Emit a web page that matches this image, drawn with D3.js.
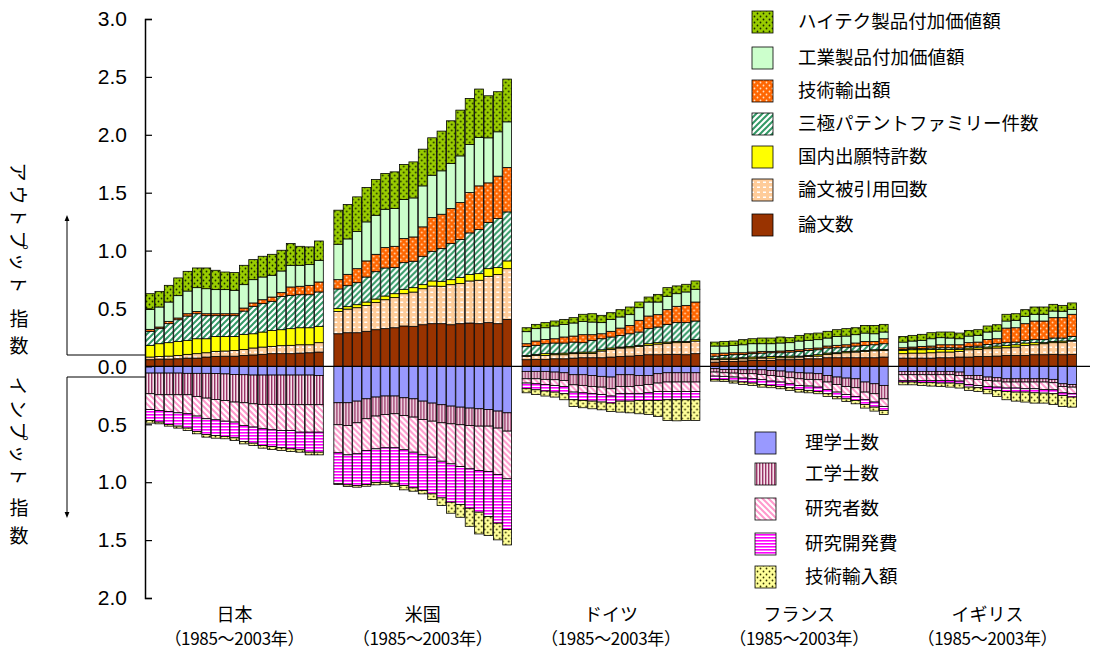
<!DOCTYPE html>
<html>
<head>
<meta charset="utf-8">
<script src="https://cdn.jsdelivr.net/npm/d3@7"></script>
<style>
  body { margin: 0; background: #fff; }
  svg { display: block; font-family: "Noto Sans CJK JP", "Noto Sans", sans-serif; }
</style>
</head>
<body>
<div id="chart"></div>
<script>
const width = 1096;
const height = 652;

const countries = ["日本", "米国", "ドイツ", "フランス", "イギリス"];
const years = [1985, 1986, 1987, 1988, 1989, 1990, 1991, 1992, 1993, 1994,
  1995, 1996, 1997, 1998, 1999, 2000, 2001, 2002, 2003];
const yTicks = [-2, -1.5, -1, -0.5, 0, 0.5, 1, 1.5, 2, 2.5, 3];

// output side, one row per country (JP, US, DE, FR, UK), 1985..2003
const papers = [
  [0.058, 0.063, 0.063, 0.066, 0.072, 0.072, 0.081, 0.086, 0.088, 0.088, 0.095, 0.099, 0.104, 0.110, 0.110, 0.110, 0.115, 0.118, 0.124],
  [0.282, 0.291, 0.291, 0.303, 0.317, 0.326, 0.334, 0.349, 0.346, 0.360, 0.369, 0.369, 0.360, 0.369, 0.375, 0.369, 0.378, 0.369, 0.406],
  [0.058, 0.061, 0.061, 0.066, 0.066, 0.072, 0.075, 0.075, 0.075, 0.081, 0.086, 0.089, 0.095, 0.101, 0.101, 0.104, 0.104, 0.101, 0.110],
  [0.037, 0.043, 0.043, 0.046, 0.052, 0.052, 0.052, 0.058, 0.058, 0.061, 0.066, 0.066, 0.075, 0.075, 0.075, 0.075, 0.075, 0.075, 0.081],
  [0.072, 0.072, 0.072, 0.072, 0.075, 0.075, 0.081, 0.081, 0.086, 0.086, 0.089, 0.095, 0.095, 0.095, 0.101, 0.101, 0.104, 0.101, 0.104]
];
const citations = [
  [0.023, 0.023, 0.026, 0.029, 0.032, 0.038, 0.037, 0.044, 0.045, 0.050, 0.052, 0.060, 0.063, 0.063, 0.069, 0.072, 0.072, 0.069, 0.081],
  [0.193, 0.204, 0.216, 0.224, 0.236, 0.250, 0.260, 0.279, 0.296, 0.311, 0.325, 0.323, 0.346, 0.346, 0.363, 0.375, 0.400, 0.424, 0.438],
  [0.028, 0.034, 0.034, 0.035, 0.035, 0.038, 0.037, 0.037, 0.058, 0.066, 0.073, 0.072, 0.078, 0.081, 0.092, 0.095, 0.101, 0.106, 0.109],
  [0.021, 0.018, 0.018, 0.020, 0.014, 0.020, 0.020, 0.017, 0.017, 0.020, 0.020, 0.023, 0.029, 0.035, 0.043, 0.049, 0.055, 0.060, 0.057],
  [0.038, 0.043, 0.043, 0.046, 0.049, 0.049, 0.049, 0.063, 0.061, 0.067, 0.070, 0.066, 0.072, 0.087, 0.086, 0.095, 0.101, 0.104, 0.115]
];
const domesticPatents = [
  [0.101, 0.110, 0.116, 0.121, 0.121, 0.129, 0.121, 0.129, 0.126, 0.121, 0.130, 0.123, 0.130, 0.138, 0.138, 0.144, 0.147, 0.147, 0.141],
  [0.024, 0.021, 0.026, 0.029, 0.029, 0.032, 0.034, 0.038, 0.038, 0.035, 0.044, 0.043, 0.043, 0.052, 0.055, 0.057, 0.066, 0.060, 0.067],
  [0.009, 0.009, 0.015, 0.009, 0.014, 0.008, 0.012, 0.012, 0.011, 0.012, 0.008, 0.012, 0.009, 0.014, 0.012, 0.011, 0.011, 0.009, 0.012],
  [0.008, 0.011, 0.011, 0.009, 0.015, 0.009, 0.014, 0.011, 0.014, 0.008, 0.009, 0.012, 0.011, 0.008, 0.012, 0.009, 0.008, 0.009, 0.009],
  [0.028, 0.029, 0.029, 0.029, 0.023, 0.023, 0.017, 0.015, 0.014, 0.014, 0.017, 0.021, 0.020, 0.020, 0.018, 0.009, 0.011, 0.014, 0.006]
];
const triadicPatents = [
  [0.121, 0.130, 0.164, 0.187, 0.210, 0.216, 0.199, 0.179, 0.179, 0.179, 0.201, 0.237, 0.245, 0.251, 0.288, 0.288, 0.285, 0.285, 0.297],
  [0.170, 0.181, 0.190, 0.216, 0.236, 0.242, 0.225, 0.230, 0.228, 0.245, 0.256, 0.282, 0.312, 0.328, 0.360, 0.381, 0.398, 0.424, 0.423],
  [0.078, 0.078, 0.086, 0.092, 0.087, 0.092, 0.081, 0.101, 0.095, 0.095, 0.101, 0.109, 0.115, 0.130, 0.135, 0.153, 0.162, 0.162, 0.161],
  [0.023, 0.023, 0.029, 0.029, 0.029, 0.034, 0.032, 0.032, 0.035, 0.041, 0.043, 0.043, 0.044, 0.043, 0.037, 0.043, 0.044, 0.043, 0.049],
  [0.009, 0.009, 0.009, 0.012, 0.014, 0.014, 0.012, 0.014, 0.015, 0.023, 0.020, 0.023, 0.023, 0.023, 0.026, 0.026, 0.029, 0.026, 0.034]
];
const techExports = [
  [0.017, 0.014, 0.020, 0.015, 0.020, 0.020, 0.017, 0.017, 0.017, 0.017, 0.026, 0.029, 0.034, 0.037, 0.032, 0.072, 0.073, 0.081, 0.086],
  [0.080, 0.098, 0.121, 0.139, 0.150, 0.176, 0.184, 0.208, 0.210, 0.254, 0.291, 0.297, 0.302, 0.320, 0.348, 0.377, 0.343, 0.366, 0.384],
  [0.023, 0.037, 0.037, 0.037, 0.052, 0.052, 0.069, 0.049, 0.043, 0.049, 0.063, 0.072, 0.101, 0.109, 0.107, 0.127, 0.141, 0.149, 0.164],
  [0.021, 0.020, 0.017, 0.014, 0.014, 0.015, 0.012, 0.015, 0.014, 0.014, 0.015, 0.015, 0.017, 0.021, 0.020, 0.026, 0.034, 0.029, 0.043],
  [0.014, 0.014, 0.020, 0.017, 0.026, 0.026, 0.028, 0.032, 0.034, 0.043, 0.043, 0.126, 0.124, 0.144, 0.161, 0.161, 0.176, 0.176, 0.191]
];
const industryValueAdded = [
  [0.173, 0.173, 0.167, 0.193, 0.196, 0.205, 0.216, 0.208, 0.208, 0.202, 0.202, 0.201, 0.196, 0.188, 0.187, 0.187, 0.181, 0.179, 0.187],
  [0.306, 0.306, 0.320, 0.337, 0.337, 0.331, 0.326, 0.337, 0.337, 0.354, 0.366, 0.375, 0.389, 0.403, 0.415, 0.418, 0.389, 0.383, 0.394],
  [0.104, 0.107, 0.101, 0.110, 0.109, 0.113, 0.115, 0.109, 0.096, 0.103, 0.096, 0.093, 0.109, 0.121, 0.109, 0.115, 0.109, 0.116, 0.110],
  [0.066, 0.061, 0.064, 0.069, 0.072, 0.066, 0.066, 0.069, 0.067, 0.075, 0.072, 0.072, 0.069, 0.077, 0.075, 0.072, 0.072, 0.066, 0.058],
  [0.049, 0.052, 0.052, 0.063, 0.061, 0.058, 0.052, 0.057, 0.058, 0.064, 0.066, 0.061, 0.064, 0.063, 0.058, 0.058, 0.057, 0.055, 0.043]
];
const hiTechValueAdded = [
  [0.135, 0.135, 0.144, 0.153, 0.170, 0.170, 0.179, 0.167, 0.152, 0.153, 0.167, 0.173, 0.179, 0.181, 0.179, 0.188, 0.164, 0.153, 0.167],
  [0.294, 0.297, 0.300, 0.297, 0.309, 0.309, 0.317, 0.303, 0.311, 0.317, 0.323, 0.343, 0.369, 0.395, 0.398, 0.418, 0.363, 0.346, 0.369],
  [0.034, 0.037, 0.044, 0.043, 0.043, 0.046, 0.061, 0.072, 0.063, 0.058, 0.063, 0.066, 0.049, 0.043, 0.066, 0.075, 0.067, 0.066, 0.072],
  [0.034, 0.040, 0.037, 0.044, 0.043, 0.049, 0.049, 0.052, 0.043, 0.049, 0.057, 0.057, 0.058, 0.058, 0.064, 0.060, 0.066, 0.072, 0.066],
  [0.049, 0.049, 0.052, 0.052, 0.049, 0.052, 0.049, 0.049, 0.049, 0.052, 0.055, 0.058, 0.057, 0.058, 0.063, 0.063, 0.058, 0.051, 0.055]
];

// input side (drawn downward)
const scienceGrads = [
  [0.058, 0.058, 0.058, 0.058, 0.060, 0.060, 0.060, 0.062, 0.065, 0.070, 0.072, 0.075, 0.075, 0.075, 0.075, 0.075, 0.075, 0.075, 0.078],
  [0.314, 0.314, 0.300, 0.280, 0.265, 0.256, 0.256, 0.271, 0.280, 0.300, 0.317, 0.331, 0.343, 0.352, 0.360, 0.366, 0.372, 0.386, 0.401],
  [0.043, 0.043, 0.043, 0.049, 0.055, 0.072, 0.072, 0.078, 0.086, 0.092, 0.072, 0.072, 0.078, 0.078, 0.063, 0.055, 0.055, 0.055, 0.055],
  [0.020, 0.026, 0.026, 0.029, 0.029, 0.029, 0.035, 0.040, 0.049, 0.055, 0.058, 0.063, 0.078, 0.092, 0.101, 0.107, 0.135, 0.150, 0.164],
  [0.043, 0.043, 0.043, 0.043, 0.043, 0.043, 0.049, 0.078, 0.078, 0.092, 0.098, 0.107, 0.107, 0.107, 0.107, 0.107, 0.112, 0.150, 0.156]
];
const engineeringGrads = [
  [0.178, 0.187, 0.187, 0.187, 0.185, 0.199, 0.214, 0.223, 0.229, 0.238, 0.242, 0.248, 0.253, 0.253, 0.253, 0.253, 0.256, 0.256, 0.253],
  [0.190, 0.196, 0.187, 0.172, 0.164, 0.159, 0.153, 0.153, 0.158, 0.158, 0.156, 0.156, 0.153, 0.152, 0.150, 0.150, 0.144, 0.147, 0.158],
  [0.064, 0.064, 0.069, 0.066, 0.066, 0.087, 0.092, 0.095, 0.093, 0.101, 0.101, 0.101, 0.086, 0.078, 0.081, 0.080, 0.080, 0.080, 0.080],
  [0.029, 0.029, 0.032, 0.034, 0.034, 0.040, 0.043, 0.046, 0.049, 0.052, 0.054, 0.052, 0.057, 0.064, 0.072, 0.077, 0.087, 0.086, 0.116],
  [0.029, 0.029, 0.029, 0.029, 0.029, 0.029, 0.029, 0.029, 0.034, 0.029, 0.029, 0.028, 0.028, 0.028, 0.028, 0.028, 0.029, 0.023, 0.023]
];
const researchers = [
  [0.136, 0.135, 0.144, 0.156, 0.164, 0.170, 0.178, 0.176, 0.179, 0.173, 0.196, 0.201, 0.211, 0.220, 0.225, 0.225, 0.237, 0.237, 0.237],
  [0.242, 0.254, 0.268, 0.274, 0.283, 0.288, 0.294, 0.296, 0.303, 0.306, 0.311, 0.332, 0.346, 0.361, 0.375, 0.383, 0.392, 0.401, 0.412],
  [0.037, 0.043, 0.044, 0.049, 0.052, 0.063, 0.064, 0.063, 0.063, 0.063, 0.063, 0.063, 0.072, 0.072, 0.072, 0.081, 0.081, 0.081, 0.081],
  [0.035, 0.031, 0.034, 0.038, 0.044, 0.046, 0.049, 0.049, 0.052, 0.057, 0.058, 0.064, 0.064, 0.066, 0.069, 0.075, 0.066, 0.072, 0.066],
  [0.049, 0.049, 0.049, 0.049, 0.049, 0.049, 0.049, 0.049, 0.052, 0.052, 0.052, 0.052, 0.052, 0.058, 0.058, 0.064, 0.061, 0.055, 0.057]
];
const rdSpending = [
  [0.095, 0.101, 0.112, 0.115, 0.124, 0.133, 0.136, 0.136, 0.132, 0.136, 0.138, 0.139, 0.144, 0.144, 0.150, 0.159, 0.152, 0.173, 0.173],
  [0.268, 0.259, 0.274, 0.294, 0.291, 0.297, 0.306, 0.309, 0.308, 0.308, 0.317, 0.317, 0.331, 0.328, 0.340, 0.360, 0.389, 0.420, 0.438],
  [0.049, 0.052, 0.057, 0.058, 0.063, 0.066, 0.066, 0.064, 0.066, 0.061, 0.064, 0.064, 0.058, 0.066, 0.078, 0.072, 0.072, 0.072, 0.072],
  [0.028, 0.029, 0.035, 0.034, 0.037, 0.041, 0.037, 0.038, 0.034, 0.035, 0.037, 0.037, 0.037, 0.037, 0.038, 0.035, 0.041, 0.044, 0.034],
  [0.014, 0.014, 0.020, 0.020, 0.023, 0.023, 0.023, 0.023, 0.020, 0.026, 0.028, 0.029, 0.035, 0.029, 0.035, 0.032, 0.034, 0.023, 0.029]
];
const techImports = [
  [0.023, 0.015, 0.015, 0.017, 0.020, 0.020, 0.023, 0.023, 0.020, 0.023, 0.021, 0.020, 0.023, 0.026, 0.023, 0.023, 0.021, 0.023, 0.023],
  [0.006, 0.014, 0.014, 0.015, 0.020, 0.020, 0.028, 0.037, 0.029, 0.029, 0.049, 0.066, 0.095, 0.110, 0.156, 0.188, 0.164, 0.144, 0.133],
  [0.035, 0.040, 0.043, 0.043, 0.052, 0.058, 0.063, 0.066, 0.067, 0.072, 0.095, 0.101, 0.115, 0.121, 0.138, 0.179, 0.182, 0.179, 0.179],
  [0.015, 0.015, 0.017, 0.021, 0.020, 0.023, 0.020, 0.020, 0.023, 0.023, 0.021, 0.020, 0.023, 0.021, 0.023, 0.029, 0.031, 0.034, 0.035],
  [0.024, 0.024, 0.023, 0.029, 0.029, 0.035, 0.037, 0.028, 0.032, 0.037, 0.052, 0.072, 0.078, 0.086, 0.089, 0.086, 0.093, 0.095, 0.087]
];

// series, bottom to top (outputs) / top to bottom (inputs)
const outputSeries = [
  { key: "papers", name: "論文数", values: papers, fill: "#993300" },
  { key: "citations", name: "論文被引用回数", values: citations, fill: "url(#pCite)" },
  { key: "domestic", name: "国内出願特許数", values: domesticPatents, fill: "#ffff00" },
  { key: "triadic", name: "三極パテントファミリー件数", values: triadicPatents, fill: "url(#pTri)" },
  { key: "techExp", name: "技術輸出額", values: techExports, fill: "url(#pExp)" },
  { key: "industry", name: "工業製品付加価値額", values: industryValueAdded, fill: "#ccffcc" },
  { key: "hitech", name: "ハイテク製品付加価値額", values: hiTechValueAdded, fill: "url(#pHi)" }
];
const inputSeries = [
  { key: "sci", name: "理学士数", values: scienceGrads, fill: "#9999ff" },
  { key: "eng", name: "工学士数", values: engineeringGrads, fill: "url(#pEng)" },
  { key: "res", name: "研究者数", values: researchers, fill: "url(#pRes)" },
  { key: "rd", name: "研究開発費", values: rdSpending, fill: "url(#pRd)" },
  { key: "techImp", name: "技術輸入額", values: techImports, fill: "url(#pImp)" }
];

const margin = { top: 19, bottom: 54, left: 145, right: 19 };
const zeroLineEnd = 1090;

const svg = d3.select("#chart").append("svg")
  .attr("width", width)
  .attr("height", height);

// fill patterns
const defs = svg.append("defs");
function pattern(id, w, h, bg, draw) {
  const p = defs.append("pattern").attr("id", id)
    .attr("patternUnits", "userSpaceOnUse").attr("width", w).attr("height", h);
  p.append("rect").attr("width", w).attr("height", h).attr("fill", bg);
  draw(p);
}
pattern("pHi", 6, 6, "#99cc00", (p) => {
  p.append("circle").attr("cx", 1.5).attr("cy", 1.5).attr("r", 0.9).attr("fill", "#1a2a00");
  p.append("circle").attr("cx", 4.5).attr("cy", 4.5).attr("r", 0.9).attr("fill", "#1a2a00");
});
pattern("pExp", 6, 6, "#ff6600", (p) => {
  p.append("circle").attr("cx", 1.5).attr("cy", 1.5).attr("r", 0.9).attr("fill", "#ffe0c0");
  p.append("circle").attr("cx", 4.5).attr("cy", 4.5).attr("r", 0.9).attr("fill", "#ffe0c0");
});
pattern("pImp", 6, 6, "#ffff99", (p) => {
  p.append("circle").attr("cx", 1.5).attr("cy", 1.5).attr("r", 0.9).attr("fill", "#333300");
  p.append("circle").attr("cx", 4.5).attr("cy", 4.5).attr("r", 0.9).attr("fill", "#333300");
});
pattern("pCite", 6, 5, "#ffcc99", (p) => {
  p.append("rect").attr("x", 1).attr("y", 1.5).attr("width", 3).attr("height", 1.5).attr("fill", "#fff");
});
pattern("pTri", 6, 6, "#ffffff", (p) => {
  p.append("path").attr("d", "M-1,7 L7,-1 M-1,1 L1,-1 M5,7 L7,5")
    .attr("stroke", "#339966").attr("stroke-width", 2);
});
pattern("pRes", 6, 6, "#ffffff", (p) => {
  p.append("path").attr("d", "M-1,-1 L7,7 M5,-1 L7,1 M-1,5 L1,7")
    .attr("stroke", "#ff99cc").attr("stroke-width", 2);
});
pattern("pEng", 3, 4, "#f6e0ea", (p) => {
  p.append("rect").attr("x", 0).attr("width", 1.4).attr("height", 4).attr("fill", "#993366");
});
pattern("pRd", 4, 3, "#ffffff", (p) => {
  p.append("rect").attr("y", 0).attr("width", 4).attr("height", 1.6).attr("fill", "#ff00ff");
});

// scales
const y = d3.scaleLinear().domain([-2, 3]).range([height - margin.bottom, margin.top]);
const xCountry = d3.scaleBand().domain(countries)
  .range([margin.left, 1077]).paddingInner(0.05).paddingOuter(0);
const xYear = d3.scaleBand().domain(years)
  .range([0, xCountry.bandwidth()]).padding(0.06);

// stacked rows
function rows(series, ci) {
  return years.map((yr, i) => {
    const r = { year: yr };
    series.forEach((s) => { r[s.key] = s.values[ci][i]; });
    return r;
  });
}
const outStack = d3.stack().keys(outputSeries.map((s) => s.key));
const inStack = d3.stack().keys(inputSeries.map((s) => s.key));

const bars = svg.append("g");
countries.forEach((c, ci) => {
  const g = bars.append("g").attr("transform", `translate(${xCountry(c)},0)`);
  outStack(rows(outputSeries, ci)).forEach((layer, li) => {
    g.append("g").attr("fill", outputSeries[li].fill)
      .selectAll("rect").data(layer).join("rect")
      .attr("x", (d) => xYear(d.data.year))
      .attr("width", xYear.bandwidth())
      .attr("y", (d) => y(d[1]))
      .attr("height", (d) => y(d[0]) - y(d[1]))
      .attr("stroke", "#000").attr("stroke-width", 0.8);
  });
  inStack(rows(inputSeries, ci)).forEach((layer, li) => {
    g.append("g").attr("fill", inputSeries[li].fill)
      .selectAll("rect").data(layer).join("rect")
      .attr("x", (d) => xYear(d.data.year))
      .attr("width", xYear.bandwidth())
      .attr("y", (d) => y(-d[0]))
      .attr("height", (d) => y(-d[1]) - y(-d[0]))
      .attr("stroke", "#000").attr("stroke-width", 0.8);
  });
});

// y axis
const yAxis = svg.append("g")
  .attr("transform", `translate(${margin.left},0)`)
  .call(d3.axisLeft(y).tickValues(yTicks).tickSize(-7).tickPadding(18)
    .tickFormat((d) => d3.format(".1f")(Math.abs(d))));
yAxis.select(".domain").attr("stroke", "#000").attr("stroke-width", 1.5);
yAxis.selectAll(".tick line").attr("stroke", "#000").attr("stroke-width", 1.2);
yAxis.selectAll("text").attr("font-size", 21).attr("fill", "#000")
  .attr("font-family", "Liberation Sans, Arial, sans-serif");

// zero line
svg.append("line")
  .attr("x1", margin.left).attr("x2", zeroLineEnd)
  .attr("y1", y(0)).attr("y2", y(0))
  .attr("stroke", "#000").attr("stroke-width", 1.2);

// country labels
const xLabels = svg.append("g").attr("text-anchor", "middle").attr("fill", "#000");
countries.forEach((c) => {
  const cx = xCountry(c) + xCountry.bandwidth() / 2;
  xLabels.append("text").attr("x", cx).attr("y", 621).attr("font-size", 18).text(c);
  xLabels.append("text").attr("x", cx).attr("y", 645).attr("font-size", 17)
    .attr("textLength", 140).attr("lengthAdjust", "spacing").text("（1985～2003年）");
});

// left side titles with arrows
const side = svg.append("g").attr("fill", "#000").attr("font-size", 19)
  .attr("text-anchor", "middle").attr("dominant-baseline", "central");
const outLabel = ["ア", "ウ", "ト", "プ", "ッ", "ト", "指", "数"];
const outY = [172, 195, 217, 240, 262, 284, 317, 344];
const inLabel = ["イ", "ン", "プ", "ッ", "ト", "指", "数"];
const inY = [386, 409, 431, 454, 476, 506, 534];
outLabel.forEach((ch, i) => {
  side.append("text").attr("x", 19).attr("y", outY[i])
    .attr("transform", i < 6 ? `rotate(90,19,${outY[i]})` : null).text(ch);
});
inLabel.forEach((ch, i) => {
  side.append("text").attr("x", 19).attr("y", inY[i])
    .attr("transform", i < 5 ? `rotate(90,19,${inY[i]})` : null).text(ch);
});
svg.append("defs").html(
  '<marker id="arr" viewBox="0 0 10 10" refX="5" refY="5" markerWidth="6" markerHeight="8" orient="auto-start-reverse">' +
  '<path d="M0,1 L10,5 L0,9 z" fill="#000"/></marker>');
svg.append("line").attr("x1", 67).attr("x2", 67).attr("y1", 355).attr("y2", 218)
  .attr("stroke", "#000").attr("marker-end", "url(#arr)");
svg.append("line").attr("x1", 67).attr("x2", 67).attr("y1", 377).attr("y2", 515)
  .attr("stroke", "#000").attr("marker-end", "url(#arr)");
svg.append("line").attr("x1", 67).attr("x2", margin.left).attr("y1", 355).attr("y2", 355)
  .attr("stroke", "#000");
svg.append("line").attr("x1", 67).attr("x2", margin.left).attr("y1", 377).attr("y2", 377)
  .attr("stroke", "#000");

// legends
function legend(series, x0, ys, textX) {
  const lg = svg.append("g").attr("font-size", 18.5).attr("fill", "#000");
  series.forEach((s, i) => {
    lg.append("rect").attr("x", x0).attr("y", ys[i] - 11).attr("width", 21).attr("height", 22)
      .attr("fill", s.fill).attr("stroke", "#000").attr("stroke-width", 0.8);
    lg.append("text").attr("x", textX).attr("y", ys[i] + 6).text(s.name);
  });
}
legend(outputSeries.slice().reverse(), 752, [22, 58, 91, 124, 157, 190, 225], 798);
legend(inputSeries, 755, [443, 474, 509, 544, 577], 805);
</script>
</body>
</html>
